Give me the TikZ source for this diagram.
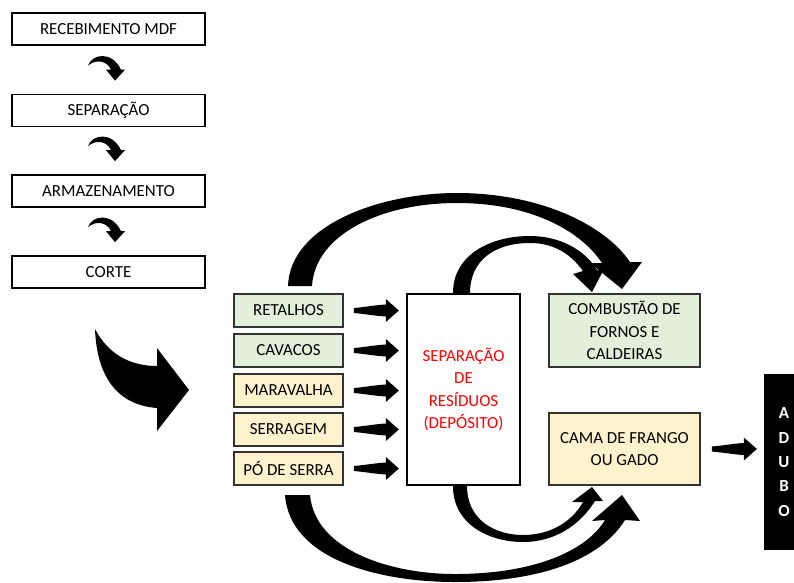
\documentclass[tikz,border=0pt]{standalone}
\usepackage{fontspec}
\setmainfont{Carlito}
\usetikzlibrary{calc}
\definecolor{boxgreen}{HTML}{E2EFDA}
\definecolor{boxyellow}{HTML}{FFF2CC}
\definecolor{txtred}{HTML}{FF0000}
\tikzset{
  x=1pt, y=-1pt,
  basefont/.style={font=\fontsize{16.9}{22.5}\selectfont},
  stepbox/.style={basefont, draw=black, line width=1.7pt, fill=white,
    minimum width=193pt, minimum height=32pt, inner sep=0pt},
  wastebox/.style={basefont, draw=black!80, line width=1.7pt,
    minimum width=109pt, minimum height=33pt, inner sep=0pt},
  destbox/.style={basefont, draw=black!80, line width=1.7pt,
    minimum width=151pt, minimum height=72pt, inner sep=0pt, align=center},
  greenfill/.style={fill=boxgreen},
  yellowfill/.style={fill=boxyellow},
  blockfill/.style={fill=black, draw=none},
  pics/straightarrow/.style={code={
    \fill[blockfill] (0,-2.5) .. controls (12,-3.5) and (22,-5.5) .. (32,-6)
      -- (32,-11.5) -- (45,0) -- (32,11.5) -- (32,6)
      .. controls (22,5.5) and (12,3.5) .. (0,2.5) -- cycle;
  }},
  pics/smallcurve/.style={code={
    \fill[blockfill] (-27,-15) .. controls (-23,-27) and (-3,-30) .. (6,-11)
      -- (10,-11) -- (0,0) -- (-9,-11) -- (-4,-11)
      .. controls (-8,-20) and (-19,-22) .. (-27,-15) -- cycle;
  }},
}
\begin{document}
\begin{tikzpicture}
\useasboundingbox (0,0) rectangle (794,582);
\clip (0,0) rectangle (794,582);

% process steps
\node[stepbox] (rec) at (108.5,29) {RECEBIMENTO MDF};
\node[stepbox] (sep) at (108.5,110.5) {SEPARAÇÃO};
\node[stepbox] (arm) at (108.5,191) {ARMAZENAMENTO};
\node[stepbox] (cor) at (108.5,272) {CORTE};

\pic at ($(sep.north)+(6.5,-13)$) {smallcurve};
\pic at ($(arm.north)+(6.5,-13)$) {smallcurve};
\pic at ($(cor.north)+(6.5,-13)$) {smallcurve};

% big arrow from the steps to the residues
\fill[blockfill] (95,329) .. controls (108,354) and (130,366) .. (157,366)
  -- (157,348) -- (189,390) -- (157,431) -- (157,408)
  .. controls (118,405) and (97,378) .. (95,329) -- cycle;

% residues
\node[wastebox, greenfill] (ret) at (288.5,310.5) {RETALHOS};
\node[wastebox, greenfill] (cav) at (288.5,350.5) {CAVACOS};
\node[wastebox, yellowfill] (mar) at (288.5,390.5) {MARAVALHA};
\node[wastebox, yellowfill] (ser) at (288.5,429.5) {SERRAGEM};
\node[wastebox, yellowfill] (po) at (288.5,468.5) {PÓ DE SERRA};

% central box
\node[basefont, draw=black, line width=1.7pt, fill=white, minimum width=113pt,
  minimum height=191pt, inner sep=0pt, align=center, text=txtred]
  (dep) at (463.5,389.5) {SEPARAÇÃO\\DE\\RESÍDUOS\\(DEPÓSITO)};

\foreach \n in {ret,cav,mar,ser,po}
  \pic at ($(\n.east)+(10,0)$) {straightarrow};

% destinations
\node[destbox, greenfill, minimum height=73pt] (com) at (624.5,330.5)
  {COMBUSTÃO DE\\FORNOS E\\CALDEIRAS};
\node[destbox, yellowfill] (cama) at (624.5,449) {CAMA DE FRANGO\\OU GADO};

\node[fill=black, minimum width=40pt, minimum height=176pt, inner sep=0pt,
  align=center, text=white, font=\fontsize{16.9}{24.3}\selectfont\bfseries]
  (adu) at (784,462) {A\\D\\U\\B\\O};

\pic at ($(cama.east)+(11,0)$) {straightarrow};

% top outer arc: residues -> combustion
\fill[blockfill] (288,286) .. controls (290,225) and (380,193) .. (457,193)
  .. controls (540,193) and (605,225) .. (630,262)
  -- (642,262) -- (622,289) -- (590,263) -- (602,263)
  .. controls (580,230) and (530,203) .. (457,203)
  .. controls (380,203) and (315,235) .. (312,286) -- cycle;

% top inner arc: deposit -> combustion
\fill[blockfill] (453,293) .. controls (453,255) and (490,236) .. (530,236)
  .. controls (560,236) and (585,250) .. (597,270)
  -- (603,271) -- (592,292) -- (573,274) -- (583,271)
  .. controls (570,253) and (553,243) .. (530,243)
  .. controls (495,243) and (470,260) .. (470,293) -- cycle;

% bottom outer arc: residues -> cama
\fill[blockfill] (285,495) .. controls (290,560) and (380,582) .. (455,582)
  .. controls (540,582) and (600,560) .. (625,520)
  -- (640,521) -- (622,495) -- (592,521) -- (605,520)
  .. controls (585,553) and (530,574) .. (455,574)
  .. controls (390,574) and (315,550) .. (310,495) -- cycle;

% bottom inner arc: deposit -> cama
\fill[blockfill] (453,486) .. controls (453,525) and (490,542) .. (523,542)
  .. controls (555,542) and (580,525) .. (595,501)
  -- (603,501) -- (592,487) -- (572,502) -- (583,502)
  .. controls (572,522) and (550,535) .. (523,535)
  .. controls (495,535) and (467,520) .. (467,486) -- cycle;
\end{tikzpicture}
\end{document}
